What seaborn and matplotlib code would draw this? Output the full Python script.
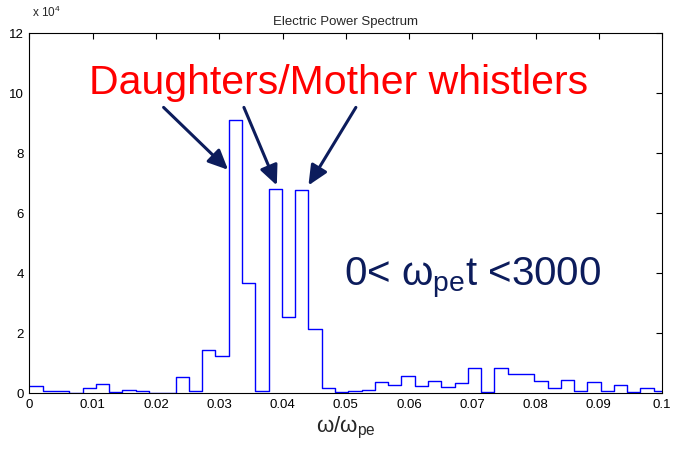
import numpy as np
import pandas as pd
import matplotlib
matplotlib.use("Agg")
import matplotlib.pyplot as plt
import seaborn as sns

# ---- data (power in units of 1e4) ----
bin_width = 0.0021
n_bins = 48
power = [0.26, 0.07, 0.07, 0.0, 0.18, 0.31, 0.05, 0.10, 0.07, 0.02,
         0.02, 0.53, 0.07, 1.43, 1.23, 9.11, 3.67, 0.08, 6.80, 2.55,
         6.78, 2.13, 0.17, 0.03, 0.09, 0.12, 0.37, 0.29, 0.57, 0.26,
         0.40, 0.21, 0.34, 0.83, 0.06, 0.83, 0.64, 0.64, 0.40, 0.17,
         0.43, 0.09, 0.37, 0.09, 0.29, 0.03, 0.17, 0.07]
xticks = [0, 0.01, 0.02, 0.03, 0.04, 0.05, 0.06, 0.07, 0.08, 0.09, 0.1]
xticklabels = ["0", "0.01", "0.02", "0.03", "0.04", "0.05", "0.06", "0.07", "0.08", "0.09", "0.1"]
yticks = [0, 2, 4, 6, 8, 10, 12]

centers = (np.arange(n_bins) + 0.5) * bin_width
df = pd.DataFrame({"freq": centers, "power": power})

sns.set_style("white")
plt.rcParams['font.family'] = ['Liberation Sans', 'DejaVu Sans']
plt.rcParams['mathtext.fontset'] = 'custom'
plt.rcParams['mathtext.rm'] = 'Liberation Sans'
plt.rcParams['mathtext.it'] = 'Liberation Sans'
plt.rcParams['mathtext.bf'] = 'Liberation Sans:bold'

fig = plt.figure(figsize=(6.73, 4.62), dpi=100)
ax = fig.add_axes([29.5/673, 1-393.3/462, (662-29.5)/673, (393.3-33.3)/462])

sns.histplot(data=df, x="freq", weights="power", binwidth=bin_width,
             binrange=(0, n_bins * bin_width), element="step",
             fill=False, color="#0000ff", linewidth=1.0, ax=ax)

ax.set_xlim(0, 0.1)
ax.set_ylim(0, 12)
ax.set_xticks(xticks)
ax.set_xticklabels(xticklabels)
ax.set_yticks(yticks)
ax.tick_params(direction="in", length=4, width=0.8, top=True, right=True,
               labelsize=9.5, colors="black", pad=4)
for s in ax.spines.values():
    s.set_color("black")
    s.set_linewidth(0.8)
ax.set_ylabel("")
ax.set_xlabel(r"$\mathrm{ω/ω}_{\mathrm{pe}}$", fontsize=16, labelpad=3)
ax.set_title("Electric Power Spectrum", fontsize=9.5, pad=6)
fig.text(32/673, 1-17/462, r"x 10$^4$", fontsize=8.5, ha="left", va="baseline")

navy = "#0c1c5c"
ax.text(0.0094, 9.98, "Daughters/Mother whistlers", color="#ff0000",
        fontsize=29.5, ha="left", va="baseline")
ax.text(0.0498, 3.6, r"0< $\mathrm{ω}_{\mathrm{pe}}$t <3000", color=navy,
        fontsize=29, ha="left", va="baseline")

arrows = [((0.0212, 9.53), (0.0314, 7.45)),
          ((0.0339, 9.53), (0.0391, 6.93)),
          ((0.0516, 9.53), (0.0441, 6.93))]
for (tail, tip) in arrows:
    ax.annotate("", xy=tip, xytext=tail,
                arrowprops=dict(arrowstyle="-|>,head_length=1.2,head_width=0.55",
                                color=navy, lw=2.2, shrinkA=0, shrinkB=0))

fig.savefig("out.png", dpi=100)
